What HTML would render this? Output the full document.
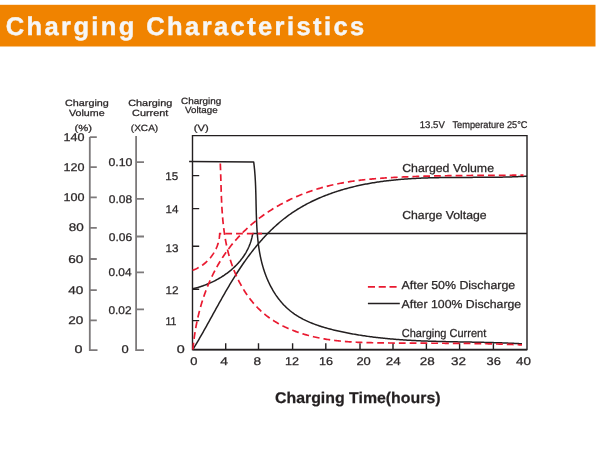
<!DOCTYPE html>
<html><head><meta charset="utf-8">
<style>
html,body{margin:0;padding:0;background:#fff;width:600px;height:451px;overflow:hidden}
svg{display:block;will-change:transform}
text{font-family:"Liberation Sans",sans-serif;fill:#2b2728;stroke:#2b2728;stroke-width:0.25px;text-rendering:geometricPrecision}
</style></head><body>
<svg width="600" height="451" viewBox="0 0 600 451">
<rect x="0" y="0" width="600" height="451" fill="#fff"/>
<rect x="0" y="4.8" width="595.5" height="41.7" fill="#f08300"/>
<text x="5.7" y="35.3" font-size="25.5" font-weight="bold" letter-spacing="2.4" style="fill:#f6f6f6;stroke:#f6f6f6;stroke-width:0.45px">Charging Characteristics</text>
<text x="65" y="106.2" font-size="9" textLength="43.8" lengthAdjust="spacingAndGlyphs">Charging</text>
<text x="69" y="115.9" font-size="9" textLength="35.6" lengthAdjust="spacingAndGlyphs">Volume</text>
<text x="74.5" y="130.8" font-size="9" textLength="17.5" lengthAdjust="spacingAndGlyphs">(%)</text>
<text x="128.2" y="106.2" font-size="9" textLength="44.2" lengthAdjust="spacingAndGlyphs">Charging</text>
<text x="132" y="116" font-size="9" textLength="36.4" lengthAdjust="spacingAndGlyphs">Current</text>
<text x="130.8" y="130.8" font-size="9" textLength="27.4" lengthAdjust="spacingAndGlyphs">(XCA)</text>
<text x="181" y="103.6" font-size="9" textLength="40.2" lengthAdjust="spacingAndGlyphs">Charging</text>
<text x="185" y="113.3" font-size="9" textLength="32.6" lengthAdjust="spacingAndGlyphs">Voltage</text>
<text x="193.8" y="131" font-size="9" textLength="14.9" lengthAdjust="spacingAndGlyphs">(V)</text>
<g stroke="#7d7a7b" stroke-width="1.8" fill="none">
<path d="M89.8 137.1 V350.2 H97.5"/>
<path d="M89.8 137.1 H96.8 M89.8 167.2 H96.8 M89.8 197.4 H96.8 M89.8 227.9 H96.8 M89.8 259 H96.8 M89.8 290.2 H96.8 M89.8 320.4 H96.8"/>
<path d="M136.1 136 V350.2 H144"/>
<path d="M136.1 162.2 H144 M136.1 198.9 H144 M136.1 236.5 H144 M136.1 272.3 H144 M136.1 309.3 H144"/>
</g>
<text x="63.40" y="141.10" font-size="11.2" textLength="21.00" lengthAdjust="spacingAndGlyphs">140</text>
<text x="63.40" y="170.50" font-size="11.2" textLength="21.00" lengthAdjust="spacingAndGlyphs">120</text>
<text x="63.40" y="200.60" font-size="11.2" textLength="21.00" lengthAdjust="spacingAndGlyphs">100</text>
<text x="68.70" y="231.30" font-size="11.2" textLength="15.00" lengthAdjust="spacingAndGlyphs">80</text>
<text x="68.30" y="263.00" font-size="11.2" textLength="15.10" lengthAdjust="spacingAndGlyphs">60</text>
<text x="68.30" y="294.00" font-size="11.2" textLength="15.10" lengthAdjust="spacingAndGlyphs">40</text>
<text x="68.30" y="324.30" font-size="11.2" textLength="15.10" lengthAdjust="spacingAndGlyphs">20</text>
<text x="74.40" y="353.40" font-size="11.2" textLength="8.00" lengthAdjust="spacingAndGlyphs">0</text>
<text x="108.40" y="165.60" font-size="11.2" textLength="24.00" lengthAdjust="spacingAndGlyphs">0.10</text>
<text x="108.80" y="202.60" font-size="11.2" textLength="23.40" lengthAdjust="spacingAndGlyphs">0.08</text>
<text x="108.80" y="241.00" font-size="11.2" textLength="23.40" lengthAdjust="spacingAndGlyphs">0.06</text>
<text x="108.40" y="275.60" font-size="11.2" textLength="23.20" lengthAdjust="spacingAndGlyphs">0.04</text>
<text x="108.40" y="313.70" font-size="11.2" textLength="23.20" lengthAdjust="spacingAndGlyphs">0.02</text>
<text x="121.60" y="353.40" font-size="11.2" textLength="7.20" lengthAdjust="spacingAndGlyphs">0</text>
<text x="165.30" y="179.90" font-size="11.2" textLength="12.90" lengthAdjust="spacingAndGlyphs">15</text>
<text x="165.50" y="213.00" font-size="11.2" textLength="12.90" lengthAdjust="spacingAndGlyphs">14</text>
<text x="165.40" y="252.00" font-size="11.2" textLength="13.00" lengthAdjust="spacingAndGlyphs">13</text>
<text x="165.40" y="293.90" font-size="11.2" textLength="13.10" lengthAdjust="spacingAndGlyphs">12</text>
<text x="165.40" y="324.90" font-size="11.2" textLength="11.00" lengthAdjust="spacingAndGlyphs">11</text>
<text x="176.80" y="352.60" font-size="11.2" textLength="8.00" lengthAdjust="spacingAndGlyphs">0</text>
<text x="190.20" y="364.80" font-size="11.2" textLength="7.20" lengthAdjust="spacingAndGlyphs">0</text>
<text x="220.20" y="364.80" font-size="11.2" textLength="7.70" lengthAdjust="spacingAndGlyphs">4</text>
<text x="253.60" y="364.80" font-size="11.2" textLength="7.60" lengthAdjust="spacingAndGlyphs">8</text>
<text x="284.90" y="364.80" font-size="11.2" textLength="14.00" lengthAdjust="spacingAndGlyphs">12</text>
<text x="318.90" y="364.80" font-size="11.2" textLength="14.00" lengthAdjust="spacingAndGlyphs">16</text>
<text x="356.40" y="364.80" font-size="11.2" textLength="14.40" lengthAdjust="spacingAndGlyphs">20</text>
<text x="385.80" y="364.80" font-size="11.2" textLength="15.00" lengthAdjust="spacingAndGlyphs">24</text>
<text x="419.80" y="364.80" font-size="11.2" textLength="15.00" lengthAdjust="spacingAndGlyphs">28</text>
<text x="451.00" y="364.80" font-size="11.2" textLength="15.00" lengthAdjust="spacingAndGlyphs">32</text>
<text x="486.60" y="364.80" font-size="11.2" textLength="14.30" lengthAdjust="spacingAndGlyphs">36</text>
<text x="516.00" y="364.80" font-size="11.2" textLength="14.90" lengthAdjust="spacingAndGlyphs">40</text>
<text x="275" y="403.4" font-size="15.5" font-weight="bold" textLength="165.5" lengthAdjust="spacingAndGlyphs" style="fill:#231f20">Charging Time(hours)</text>
<g font-size="9.8">
<text x="419.8" y="128" textLength="25" lengthAdjust="spacingAndGlyphs">13.5V</text>
<text x="452.5" y="128" textLength="75" lengthAdjust="spacingAndGlyphs">Temperature 25°C</text>
</g>
<g font-size="11.5">
<text x="402.2" y="172.3" textLength="91.8" lengthAdjust="spacingAndGlyphs">Charged Volume</text>
<text x="402.2" y="219.2" textLength="84.5" lengthAdjust="spacingAndGlyphs">Charge Voltage</text>
<text x="401.6" y="289.2" textLength="113.6" lengthAdjust="spacingAndGlyphs">After 50% Discharge</text>
<text x="401.6" y="307.6" textLength="119.6" lengthAdjust="spacingAndGlyphs">After 100% Discharge</text>
<text x="401.8" y="337.1" textLength="84.4" lengthAdjust="spacingAndGlyphs">Charging Current</text>
</g>
<g stroke="#231f20" stroke-width="1.4" fill="none">
<path d="M192.5 135.6 H527 V349.6 H192.5 Z"/>
<path d="M192.5 175.6 H199.2 M192.5 208.6 H199.2 M192.5 246.2 H199.2 M192.5 289.3 H199.2 M192.5 320.6 H199.2"/>
<path d="M225.7 349 V343.2 M258.5 349 V343.2 M292.6 349 V343.2 M325.8 349 V343.2 M360 349 V343.2 M393 349 V343.2 M426.4 349 V343.2 M459.6 349 V343.2 M493.4 349 V343.2"/>
</g>
<path d="M192.5 349.6 H527" stroke="#231f20" stroke-width="1.8" fill="none"/>
<g stroke="#231f20" stroke-width="1.5" fill="none" stroke-linejoin="round">
<path d="M189.1 161.5 L253.7 162 L253.70 162.00 L253.85 163.16 L253.99 164.32 L254.12 165.49 L254.25 166.65 L254.37 167.82 L254.49 168.99 L254.60 170.17 L254.70 171.34 L254.80 172.52 L254.89 173.70 L254.98 174.89 L255.06 176.07 L255.14 177.26 L255.21 178.45 L255.28 179.64 L255.35 180.83 L255.41 182.02 L255.47 183.22 L255.52 184.41 L255.57 185.61 L255.62 186.81 L255.66 188.01 L255.70 189.21 L255.74 190.42 L255.78 191.62 L255.81 192.83 L255.85 194.03 L255.88 195.24 L255.91 196.45 L255.94 197.66 L255.96 198.87 L255.99 200.08 L256.02 201.29 L256.04 202.50 L256.07 203.71 L256.10 204.92 L256.12 206.14 L256.15 207.35 L256.18 208.56 L256.21 209.78 L256.24 210.99 L256.27 212.20 L256.30 213.42 L256.34 214.63 L256.38 215.85 L256.42 217.06 L256.46 218.27 L256.50 219.48 L256.55 220.70 L256.60 221.91 L256.66 223.12 L256.71 224.33 L256.78 225.54 L256.84 226.75 L256.91 227.95 L256.98 229.16 L257.06 230.37 L257.15 231.57 L257.23 232.77 L257.33 233.98 L257.43 235.18 L257.53 236.38 L257.64 237.58 L257.76 238.78 L257.88 239.97 L258.01 241.17 L258.15 242.36 L258.29 243.55 L258.44 244.74 L258.60 245.93 L258.77 247.11 L258.94 248.29 L259.12 249.48 L259.31 250.66 L259.51 251.83 L259.72 253.01 L259.93 254.18 L260.16 255.35 L260.39 256.52 L260.64 257.68 L260.89 258.85 L261.15 260.01 L261.43 261.17 L261.71 262.32 L262.00 263.47 L262.31 264.62 L262.63 265.77 L262.95 266.91 L263.29 268.05 L263.64 269.19 L264.01 270.32 L264.38 271.46 L264.77 272.58 L265.17 273.71 L265.58 274.83 L266.00 275.94 L266.44 277.06 L266.89 278.17 L267.36 279.27 L267.84 280.37 L268.33 281.47 L268.83 282.56 L269.35 283.64 L269.88 284.72 L270.43 285.79 L270.99 286.86 L271.56 287.92 L272.14 288.97 L272.74 290.01 L273.35 291.04 L273.97 292.06 L274.61 293.08 L275.26 294.08 L275.92 295.08 L276.60 296.06 L277.29 297.03 L277.99 298.00 L278.71 298.95 L279.44 299.88 L280.18 300.81 L280.94 301.72 L281.71 302.62 L282.49 303.50 L283.29 304.38 L284.09 305.23 L284.92 306.07 L285.75 306.90 L286.60 307.71 L287.46 308.50 L288.34 309.28 L289.23 310.04 L290.13 310.79 L291.04 311.51 L291.97 312.23 L292.90 312.92 L293.85 313.60 L294.81 314.27 L295.79 314.92 L296.77 315.55 L297.76 316.17 L298.77 316.78 L299.78 317.37 L300.80 317.95 L301.84 318.51 L302.88 319.07 L303.93 319.60 L304.99 320.13 L306.06 320.64 L307.14 321.15 L308.22 321.64 L309.31 322.11 L310.41 322.58 L311.52 323.03 L312.63 323.48 L313.75 323.91 L314.88 324.34 L316.01 324.75 L317.15 325.15 L318.29 325.55 L319.44 325.93 L320.59 326.31 L321.74 326.67 L322.91 327.03 L324.07 327.38 L325.24 327.72 L326.41 328.05 L327.58 328.38 L328.76 328.70 L329.94 329.01 L331.12 329.32 L332.31 329.61 L333.49 329.91 L334.68 330.19 L335.87 330.47 L337.06 330.75 L338.25 331.02 L339.44 331.28 L340.63 331.54 L341.82 331.80 L343.01 332.05 L344.20 332.30 L345.39 332.54 L346.58 332.78 L347.77 333.01 L348.96 333.24 L350.14 333.47 L351.33 333.69 L352.52 333.90 L353.71 334.12 L354.90 334.33 L356.09 334.53 L357.28 334.73 L358.46 334.93 L359.65 335.12 L360.84 335.31 L362.03 335.50 L363.22 335.68 L364.40 335.85 L365.59 336.03 L366.78 336.20 L367.97 336.37 L369.15 336.53 L370.34 336.69 L371.53 336.85 L372.72 337.00 L373.90 337.15 L375.09 337.29 L376.28 337.44 L377.47 337.58 L378.65 337.71 L379.84 337.85 L381.03 337.98 L382.21 338.11 L383.40 338.23 L384.59 338.35 L385.78 338.47 L386.96 338.59 L388.15 338.70 L389.34 338.81 L390.52 338.91 L391.71 339.02 L392.90 339.12 L394.09 339.22 L395.27 339.32 L396.46 339.41 L397.65 339.50 L398.83 339.59 L400.02 339.68 L401.21 339.76 L402.40 339.84 L403.58 339.92 L404.77 340.00 L405.96 340.08 L407.15 340.15 L408.33 340.22 L409.52 340.29 L410.71 340.36 L411.90 340.42 L413.08 340.48 L414.27 340.55 L415.46 340.61 L416.65 340.66 L417.84 340.72 L419.03 340.77 L420.21 340.83 L421.40 340.88 L422.59 340.93 L423.78 340.97 L424.97 341.02 L426.16 341.06 L427.35 341.11 L428.54 341.15 L429.73 341.19 L430.92 341.23 L432.11 341.27 L433.30 341.30 L434.49 341.34 L435.68 341.37 L436.87 341.41 L438.06 341.44 L439.25 341.47 L440.44 341.50 L441.63 341.53 L442.82 341.56 L444.01 341.59 L445.20 341.62 L446.39 341.64 L447.59 341.67 L448.78 341.70 L449.97 341.72 L451.16 341.75 L452.35 341.77 L453.55 341.79 L454.74 341.82 L455.93 341.84 L457.13 341.86 L458.32 341.88 L459.51 341.90 L460.71 341.93 L461.90 341.95 L463.10 341.97 L464.29 341.99 L465.49 342.01 L466.68 342.03 L467.88 342.05 L469.07 342.08 L470.27 342.10 L471.47 342.12 L472.66 342.14 L473.86 342.16 L475.06 342.19 L476.26 342.21 L477.45 342.23 L478.65 342.26 L479.85 342.28 L481.05 342.31 L482.25 342.33 L483.45 342.36 L484.65 342.39 L485.85 342.41 L487.05 342.44 L488.25 342.47 L489.45 342.50 L490.65 342.53 L491.85 342.57 L493.05 342.60 L494.25 342.63 L495.46 342.67 L496.66 342.70 L497.86 342.74 L499.06 342.78 L500.27 342.82 L501.47 342.86 L502.68 342.90 L503.88 342.95 L505.09 342.99 L506.29 343.04 L507.50 343.09 L508.70 343.14 L509.91 343.19 L511.12 343.24 L512.33 343.30 L513.53 343.35 L514.74 343.41 L515.95 343.47 L517.16 343.53 L518.37 343.60 L519.58 343.66 L520.79 343.73 L522.00 343.80"/>
<path d="M192.50 288.80 L193.63 288.54 L194.75 288.27 L195.88 287.98 L197.01 287.67 L198.13 287.35 L199.26 287.02 L200.38 286.67 L201.51 286.31 L202.63 285.93 L203.74 285.53 L204.86 285.12 L205.97 284.70 L207.08 284.26 L208.18 283.81 L209.28 283.35 L210.38 282.87 L211.47 282.37 L212.55 281.86 L213.63 281.34 L214.70 280.80 L215.77 280.25 L216.82 279.68 L217.88 279.10 L218.92 278.51 L219.95 277.90 L220.98 277.28 L222.00 276.65 L223.01 276.00 L224.01 275.34 L224.99 274.66 L225.97 273.97 L226.94 273.27 L227.90 272.55 L228.84 271.82 L229.78 271.08 L230.70 270.33 L231.60 269.56 L232.50 268.77 L233.38 267.98 L234.25 267.17 L235.10 266.35 L235.94 265.52 L236.77 264.67 L237.58 263.81 L238.37 262.94 L239.15 262.05 L239.91 261.16 L240.65 260.25 L241.38 259.33 L242.09 258.39 L242.78 257.44 L243.45 256.48 L244.11 255.51 L244.74 254.53 L245.36 253.53 L245.96 252.52 L246.53 251.50 L247.09 250.47 L247.62 249.43 L248.14 248.37 L248.63 247.31 L249.10 246.23 L249.54 245.14 L249.97 244.03 L250.37 242.92 L250.75 241.79 L251.10 240.66 L251.43 239.51 L251.74 238.35 L252.02 237.18 L252.27 236.00 L252.50 234.80 L252.70 233.60 L527 233.5"/>
<path d="M192.90 349.50 L193.52 348.49 L194.13 347.47 L194.75 346.45 L195.36 345.43 L195.97 344.41 L196.57 343.39 L197.18 342.36 L197.78 341.33 L198.38 340.30 L198.98 339.27 L199.58 338.24 L200.17 337.21 L200.77 336.17 L201.36 335.14 L201.95 334.10 L202.54 333.06 L203.13 332.02 L203.72 330.98 L204.30 329.94 L204.89 328.90 L205.47 327.86 L206.05 326.81 L206.64 325.77 L207.22 324.72 L207.80 323.67 L208.38 322.63 L208.96 321.58 L209.54 320.53 L210.12 319.48 L210.70 318.43 L211.28 317.38 L211.86 316.33 L212.43 315.28 L213.01 314.23 L213.59 313.18 L214.17 312.13 L214.75 311.08 L215.33 310.03 L215.91 308.98 L216.49 307.93 L217.07 306.88 L217.66 305.83 L218.24 304.78 L218.82 303.73 L219.41 302.69 L219.99 301.64 L220.58 300.59 L221.17 299.54 L221.76 298.50 L222.35 297.45 L222.94 296.41 L223.53 295.37 L224.13 294.32 L224.73 293.28 L225.32 292.24 L225.92 291.20 L226.53 290.16 L227.13 289.13 L227.74 288.09 L228.35 287.06 L228.96 286.02 L229.57 284.99 L230.18 283.96 L230.80 282.93 L231.42 281.91 L232.04 280.88 L232.67 279.86 L233.30 278.84 L233.93 277.82 L234.56 276.80 L235.20 275.78 L235.84 274.77 L236.48 273.76 L237.13 272.75 L237.78 271.74 L238.43 270.74 L239.09 269.73 L239.75 268.73 L240.41 267.73 L241.08 266.74 L241.75 265.74 L242.42 264.75 L243.10 263.77 L243.78 262.78 L244.47 261.80 L245.16 260.82 L245.86 259.84 L246.55 258.87 L247.26 257.90 L247.97 256.93 L248.68 255.96 L249.40 255.00 L250.12 254.04 L250.85 253.09 L251.58 252.14 L252.31 251.19 L253.06 250.25 L253.80 249.30 L254.55 248.37 L255.31 247.44 L256.07 246.51 L256.84 245.58 L257.61 244.66 L258.38 243.75 L259.16 242.83 L259.95 241.93 L260.74 241.02 L261.53 240.13 L262.33 239.23 L263.14 238.34 L263.95 237.46 L264.76 236.58 L265.58 235.71 L266.41 234.84 L267.24 233.98 L268.08 233.13 L268.92 232.28 L269.76 231.43 L270.61 230.59 L271.47 229.76 L272.33 228.93 L273.20 228.11 L274.07 227.30 L274.95 226.49 L275.83 225.69 L276.72 224.89 L277.61 224.10 L278.51 223.32 L279.42 222.55 L280.33 221.78 L281.24 221.02 L282.16 220.27 L283.09 219.52 L284.02 218.78 L284.96 218.05 L285.90 217.33 L286.85 216.61 L287.80 215.90 L288.76 215.20 L289.73 214.51 L290.70 213.82 L291.67 213.15 L292.65 212.48 L293.64 211.82 L294.63 211.17 L295.63 210.52 L296.63 209.89 L297.64 209.26 L298.65 208.64 L299.67 208.02 L300.70 207.42 L301.72 206.82 L302.75 206.23 L303.79 205.65 L304.83 205.07 L305.88 204.51 L306.93 203.95 L307.98 203.40 L309.04 202.85 L310.11 202.31 L311.17 201.78 L312.24 201.26 L313.32 200.75 L314.40 200.24 L315.48 199.74 L316.57 199.24 L317.66 198.75 L318.75 198.27 L319.85 197.80 L320.95 197.33 L322.05 196.88 L323.16 196.42 L324.27 195.98 L325.38 195.54 L326.50 195.11 L327.62 194.68 L328.74 194.26 L329.87 193.85 L331.00 193.44 L332.13 193.05 L333.26 192.65 L334.39 192.27 L335.53 191.89 L336.67 191.51 L337.81 191.15 L338.96 190.78 L340.11 190.43 L341.25 190.08 L342.40 189.74 L343.56 189.40 L344.71 189.07 L345.87 188.75 L347.02 188.43 L348.18 188.12 L349.34 187.81 L350.51 187.51 L351.67 187.22 L352.83 186.93 L354.00 186.64 L355.17 186.37 L356.33 186.09 L357.50 185.83 L358.67 185.57 L359.84 185.31 L361.01 185.06 L362.19 184.82 L363.36 184.58 L364.53 184.34 L365.71 184.11 L366.88 183.89 L368.06 183.67 L369.24 183.46 L370.42 183.25 L371.59 183.05 L372.77 182.85 L373.95 182.65 L375.13 182.46 L376.32 182.28 L377.50 182.10 L378.68 181.92 L379.87 181.75 L381.05 181.58 L382.23 181.42 L383.42 181.26 L384.61 181.11 L385.79 180.96 L386.98 180.81 L388.17 180.67 L389.36 180.54 L390.55 180.40 L391.74 180.27 L392.93 180.15 L394.12 180.02 L395.31 179.91 L396.50 179.79 L397.70 179.68 L398.89 179.57 L400.08 179.47 L401.28 179.37 L402.47 179.27 L403.67 179.18 L404.86 179.09 L406.06 179.00 L407.25 178.91 L408.45 178.83 L409.65 178.75 L410.84 178.68 L412.04 178.61 L413.24 178.54 L414.44 178.47 L415.64 178.41 L416.84 178.34 L418.04 178.29 L419.24 178.23 L420.44 178.18 L421.64 178.12 L422.84 178.07 L424.04 178.03 L425.24 177.98 L426.44 177.94 L427.64 177.90 L428.84 177.86 L430.05 177.83 L431.25 177.79 L432.45 177.76 L433.65 177.73 L434.86 177.70 L436.06 177.67 L437.26 177.65 L438.47 177.63 L439.67 177.60 L440.87 177.58 L442.08 177.56 L443.28 177.55 L444.48 177.53 L445.69 177.51 L446.89 177.50 L448.09 177.49 L449.30 177.48 L450.50 177.47 L451.70 177.46 L452.91 177.45 L454.11 177.44 L455.31 177.43 L456.52 177.42 L457.72 177.42 L458.92 177.41 L460.13 177.41 L461.33 177.40 L462.53 177.40 L463.74 177.40 L464.94 177.39 L466.14 177.39 L467.34 177.39 L468.55 177.39 L469.75 177.38 L470.95 177.38 L472.15 177.38 L473.35 177.37 L474.55 177.37 L475.76 177.37 L476.96 177.37 L478.16 177.36 L479.36 177.36 L480.56 177.35 L481.76 177.35 L482.96 177.34 L484.15 177.34 L485.35 177.33 L486.55 177.32 L487.75 177.31 L488.95 177.30 L490.14 177.29 L491.34 177.28 L492.54 177.27 L493.73 177.26 L494.93 177.24 L496.12 177.23 L497.32 177.21 L498.51 177.19 L499.70 177.17 L500.90 177.15 L502.09 177.13 L503.28 177.10 L504.47 177.08 L505.67 177.05 L506.86 177.02 L508.05 176.99 L509.24 176.96 L510.42 176.92 L511.61 176.89 L512.80 176.85 L513.99 176.81 L515.17 176.76 L516.36 176.72 L517.54 176.67 L518.73 176.62 L519.91 176.57 L521.10 176.51 L522.28 176.45 L523.46 176.39 L524.64 176.33 L525.82 176.27 L527.00 176.20"/>
<path d="M367.9 303.4 H399.8"/>
</g>
<g stroke="#e91a30" stroke-width="1.7" fill="none" stroke-dasharray="6.8 4">
<path d="M220.30 163.50 L220.35 164.66 L220.40 165.83 L220.44 166.99 L220.49 168.16 L220.53 169.33 L220.57 170.51 L220.61 171.68 L220.65 172.86 L220.68 174.04 L220.72 175.22 L220.76 176.40 L220.79 177.58 L220.83 178.77 L220.86 179.96 L220.89 181.15 L220.93 182.34 L220.96 183.53 L221.00 184.72 L221.03 185.91 L221.07 187.11 L221.10 188.30 L221.14 189.50 L221.18 190.70 L221.22 191.90 L221.26 193.10 L221.30 194.30 L221.34 195.50 L221.39 196.70 L221.44 197.91 L221.49 199.11 L221.54 200.31 L221.59 201.52 L221.65 202.72 L221.71 203.93 L221.77 205.14 L221.84 206.34 L221.90 207.55 L221.98 208.76 L222.05 209.96 L222.13 211.17 L222.21 212.38 L222.30 213.58 L222.39 214.79 L222.49 215.99 L222.59 217.20 L222.69 218.41 L222.80 219.61 L222.91 220.82 L223.03 222.02 L223.15 223.22 L223.28 224.43 L223.42 225.63 L223.56 226.83 L223.70 228.03 L223.85 229.23 L224.01 230.43 L224.17 231.63 L224.34 232.83 L224.52 234.03 L224.70 235.22 L224.89 236.41 L225.09 237.61 L225.29 238.80 L225.50 239.99 L225.72 241.18 L225.95 242.37 L226.18 243.55 L226.42 244.74 L226.67 245.92 L226.93 247.10 L227.19 248.28 L227.47 249.46 L227.75 250.63 L228.04 251.81 L228.34 252.98 L228.65 254.15 L228.97 255.31 L229.30 256.48 L229.63 257.64 L229.98 258.80 L230.34 259.96 L230.70 261.12 L231.08 262.27 L231.47 263.42 L231.86 264.57 L232.27 265.71 L232.68 266.85 L233.11 267.99 L233.54 269.12 L233.99 270.25 L234.44 271.37 L234.91 272.49 L235.38 273.61 L235.86 274.72 L236.36 275.83 L236.86 276.93 L237.37 278.02 L237.90 279.11 L238.43 280.19 L238.97 281.27 L239.52 282.34 L240.09 283.41 L240.66 284.47 L241.24 285.52 L241.83 286.57 L242.44 287.61 L243.05 288.64 L243.67 289.66 L244.30 290.68 L244.94 291.69 L245.60 292.69 L246.26 293.68 L246.93 294.67 L247.61 295.64 L248.30 296.61 L249.00 297.57 L249.72 298.52 L250.44 299.46 L251.17 300.39 L251.91 301.31 L252.66 302.22 L253.42 303.12 L254.20 304.01 L254.98 304.90 L255.77 305.77 L256.57 306.63 L257.38 307.48 L258.21 308.31 L259.04 309.14 L259.88 309.96 L260.73 310.76 L261.59 311.55 L262.47 312.33 L263.35 313.10 L264.24 313.85 L265.15 314.60 L266.06 315.33 L266.98 316.05 L267.91 316.75 L268.85 317.45 L269.80 318.13 L270.76 318.80 L271.73 319.46 L272.71 320.11 L273.70 320.74 L274.69 321.37 L275.69 321.98 L276.70 322.58 L277.72 323.17 L278.75 323.75 L279.78 324.32 L280.82 324.88 L281.87 325.42 L282.92 325.96 L283.99 326.48 L285.05 327.00 L286.13 327.50 L287.21 328.00 L288.30 328.48 L289.39 328.95 L290.49 329.42 L291.60 329.87 L292.71 330.31 L293.83 330.75 L294.95 331.17 L296.08 331.59 L297.21 331.99 L298.35 332.39 L299.49 332.77 L300.63 333.15 L301.78 333.52 L302.94 333.88 L304.09 334.23 L305.26 334.57 L306.42 334.90 L307.59 335.22 L308.76 335.54 L309.94 335.84 L311.11 336.14 L312.30 336.43 L313.48 336.71 L314.66 336.98 L315.85 337.25 L317.04 337.51 L318.23 337.76 L319.43 338.00 L320.62 338.23 L321.82 338.46 L323.02 338.68 L324.22 338.89 L325.42 339.09 L326.62 339.29 L327.82 339.48 L329.02 339.66 L330.22 339.84 L331.43 340.00 L332.63 340.17 L333.83 340.32 L335.04 340.47 L336.24 340.62 L337.44 340.75 L338.64 340.88 L339.85 341.01 L341.05 341.13 L342.25 341.24 L343.46 341.35 L344.66 341.45 L345.86 341.55 L347.07 341.65 L348.27 341.74 L349.47 341.82 L350.68 341.90 L351.88 341.98 L353.08 342.05 L354.29 342.11 L355.49 342.18 L356.69 342.24 L357.90 342.29 L359.10 342.35 L360.30 342.40 L361.51 342.44 L362.71 342.49 L363.91 342.53 L365.11 342.57 L366.32 342.60 L367.52 342.63 L368.72 342.67 L369.92 342.69 L371.12 342.72 L372.32 342.75 L373.52 342.77 L374.72 342.79 L375.93 342.81 L377.13 342.83 L378.33 342.85 L379.53 342.87 L380.72 342.89 L381.92 342.90 L383.12 342.92 L384.32 342.93 L385.52 342.95 L386.72 342.96 L387.91 342.97 L389.11 342.99 L390.31 343.00 L391.51 343.01 L392.70 343.02 L393.90 343.03 L395.10 343.04 L396.29 343.05 L397.49 343.06 L398.68 343.07 L399.88 343.08 L401.07 343.09 L402.27 343.10 L403.46 343.10 L404.66 343.11 L405.85 343.12 L407.05 343.13 L408.24 343.13 L409.44 343.14 L410.63 343.14 L411.82 343.15 L413.02 343.15 L414.21 343.16 L415.40 343.16 L416.60 343.17 L417.79 343.17 L418.98 343.18 L420.18 343.18 L421.37 343.19 L422.56 343.19 L423.76 343.20 L424.95 343.20 L426.14 343.20 L427.33 343.21 L428.53 343.21 L429.72 343.22 L430.91 343.22 L432.11 343.23 L433.30 343.23 L434.49 343.23 L435.68 343.24 L436.88 343.24 L438.07 343.25 L439.26 343.25 L440.45 343.26 L441.65 343.26 L442.84 343.27 L444.03 343.27 L445.23 343.28 L446.42 343.29 L447.61 343.29 L448.81 343.30 L450.00 343.31 L451.19 343.31 L452.39 343.32 L453.58 343.33 L454.77 343.34 L455.97 343.35 L457.16 343.35 L458.35 343.36 L459.55 343.37 L460.74 343.38 L461.94 343.40 L463.13 343.41 L464.33 343.42 L465.52 343.43 L466.72 343.44 L467.91 343.46 L469.11 343.47 L470.30 343.49 L471.50 343.50 L472.70 343.52 L473.89 343.53 L475.09 343.55 L476.29 343.57 L477.48 343.59 L478.68 343.61 L479.88 343.63 L481.07 343.65 L482.27 343.67 L483.47 343.69 L484.67 343.71 L485.87 343.74 L487.07 343.76 L488.27 343.79 L489.47 343.81 L490.67 343.84 L491.87 343.87 L493.07 343.90 L494.27 343.93 L495.47 343.96 L496.67 343.99 L497.87 344.02 L499.08 344.05 L500.28 344.09 L501.48 344.12 L502.69 344.16 L503.89 344.20 L505.09 344.24 L506.30 344.28 L507.50 344.32 L508.71 344.36 L509.92 344.40 L511.12 344.45 L512.33 344.49 L513.54 344.54 L514.74 344.59 L515.95 344.64 L517.16 344.69 L518.37 344.74 L519.58 344.79 L520.79 344.84 L522.00 344.90"/>
<path d="M192.50 270.30 L193.62 269.88 L194.73 269.42 L195.83 268.94 L196.90 268.42 L197.96 267.87 L199.00 267.30 L200.02 266.70 L201.02 266.06 L202.00 265.41 L202.96 264.72 L203.90 264.01 L204.82 263.27 L205.72 262.51 L206.59 261.72 L207.44 260.91 L208.27 260.08 L209.08 259.22 L209.85 258.35 L210.61 257.45 L211.34 256.53 L212.04 255.59 L212.71 254.63 L213.36 253.66 L213.98 252.66 L214.57 251.65 L215.13 250.62 L215.66 249.58 L216.16 248.52 L216.63 247.44 L217.07 246.35 L217.48 245.25 L217.86 244.13 L218.20 243.00 L218.51 241.86 L218.79 240.71 L219.03 239.55 L219.23 238.38 L219.41 237.19 L219.54 236.00 L219.64 234.81 L219.70 233.60 L262 233.6"/>
<path d="M192.90 349.50 L193.01 348.31 L193.12 347.12 L193.24 345.92 L193.36 344.73 L193.49 343.54 L193.63 342.34 L193.77 341.15 L193.92 339.96 L194.07 338.77 L194.23 337.58 L194.40 336.39 L194.57 335.20 L194.74 334.01 L194.93 332.82 L195.12 331.63 L195.31 330.44 L195.52 329.26 L195.72 328.07 L195.94 326.88 L196.16 325.70 L196.39 324.52 L196.62 323.34 L196.86 322.16 L197.11 320.98 L197.36 319.80 L197.62 318.62 L197.88 317.45 L198.15 316.27 L198.43 315.10 L198.71 313.93 L199.01 312.76 L199.30 311.60 L199.61 310.43 L199.92 309.27 L200.23 308.11 L200.56 306.95 L200.89 305.79 L201.22 304.64 L201.57 303.49 L201.92 302.34 L202.27 301.19 L202.64 300.04 L203.01 298.90 L203.38 297.76 L203.77 296.62 L204.16 295.48 L204.55 294.35 L204.96 293.22 L205.37 292.10 L205.79 290.97 L206.21 289.85 L206.64 288.73 L207.08 287.62 L207.52 286.51 L207.98 285.40 L208.44 284.29 L208.90 283.19 L209.38 282.09 L209.86 281.00 L210.34 279.90 L210.84 278.82 L211.34 277.73 L211.85 276.65 L212.37 275.57 L212.89 274.50 L213.42 273.43 L213.96 272.37 L214.50 271.31 L215.06 270.25 L215.62 269.20 L216.18 268.15 L216.76 267.10 L217.34 266.06 L217.93 265.03 L218.53 263.99 L219.13 262.97 L219.74 261.95 L220.36 260.93 L220.99 259.92 L221.62 258.91 L222.26 257.90 L222.91 256.91 L223.57 255.91 L224.23 254.92 L224.91 253.94 L225.59 252.96 L226.27 251.99 L226.97 251.02 L227.67 250.06 L228.38 249.10 L229.10 248.15 L229.83 247.21 L230.56 246.27 L231.30 245.33 L232.05 244.40 L232.81 243.48 L233.58 242.56 L234.35 241.65 L235.13 240.74 L235.92 239.84 L236.72 238.95 L237.52 238.06 L238.33 237.18 L239.15 236.30 L239.97 235.43 L240.80 234.57 L241.64 233.71 L242.49 232.86 L243.34 232.02 L244.20 231.18 L245.06 230.35 L245.94 229.52 L246.81 228.70 L247.70 227.88 L248.59 227.08 L249.49 226.28 L250.39 225.48 L251.30 224.69 L252.21 223.91 L253.13 223.14 L254.06 222.37 L254.99 221.61 L255.93 220.85 L256.87 220.10 L257.82 219.36 L258.77 218.63 L259.73 217.90 L260.69 217.18 L261.66 216.46 L262.63 215.75 L263.61 215.05 L264.59 214.36 L265.58 213.67 L266.57 212.99 L267.57 212.32 L268.57 211.65 L269.57 211.00 L270.58 210.34 L271.60 209.70 L272.61 209.06 L273.64 208.43 L274.66 207.81 L275.69 207.20 L276.72 206.59 L277.76 205.99 L278.80 205.39 L279.85 204.81 L280.90 204.23 L281.95 203.66 L283.00 203.09 L284.06 202.54 L285.12 201.99 L286.19 201.44 L287.26 200.91 L288.33 200.38 L289.41 199.86 L290.48 199.34 L291.57 198.83 L292.65 198.33 L293.74 197.84 L294.83 197.35 L295.92 196.87 L297.02 196.40 L298.12 195.93 L299.22 195.47 L300.33 195.02 L301.44 194.57 L302.55 194.13 L303.66 193.70 L304.78 193.28 L305.90 192.86 L307.02 192.44 L308.14 192.04 L309.27 191.64 L310.40 191.25 L311.53 190.86 L312.66 190.48 L313.80 190.11 L314.94 189.74 L316.08 189.38 L317.22 189.03 L318.36 188.68 L319.51 188.34 L320.66 188.00 L321.81 187.67 L322.96 187.35 L324.11 187.04 L325.27 186.73 L326.43 186.42 L327.59 186.13 L328.75 185.84 L329.91 185.55 L331.07 185.27 L332.24 185.00 L333.41 184.73 L334.57 184.47 L335.74 184.22 L336.91 183.97 L338.09 183.73 L339.26 183.49 L340.44 183.26 L341.61 183.04 L342.79 182.82 L343.97 182.61 L345.15 182.40 L346.33 182.20 L347.51 182.00 L348.69 181.81 L349.87 181.63 L351.06 181.44 L352.24 181.27 L353.43 181.10 L354.62 180.93 L355.80 180.77 L356.99 180.61 L358.18 180.46 L359.37 180.31 L360.56 180.17 L361.75 180.03 L362.95 179.89 L364.14 179.76 L365.33 179.63 L366.53 179.51 L367.72 179.39 L368.91 179.27 L370.11 179.16 L371.31 179.04 L372.50 178.94 L373.70 178.83 L374.90 178.73 L376.09 178.63 L377.29 178.54 L378.49 178.45 L379.69 178.36 L380.88 178.27 L382.08 178.18 L383.28 178.10 L384.48 178.02 L385.68 177.94 L386.88 177.86 L388.08 177.79 L389.28 177.71 L390.48 177.64 L391.68 177.57 L392.87 177.50 L394.07 177.44 L395.27 177.37 L396.47 177.31 L397.67 177.25 L398.87 177.18 L400.07 177.13 L401.27 177.07 L402.47 177.01 L403.66 176.96 L404.86 176.90 L406.06 176.85 L407.26 176.80 L408.46 176.75 L409.66 176.70 L410.86 176.65 L412.06 176.61 L413.25 176.56 L414.45 176.52 L415.65 176.48 L416.85 176.43 L418.05 176.39 L419.25 176.36 L420.45 176.32 L421.65 176.28 L422.84 176.25 L424.04 176.21 L425.24 176.18 L426.44 176.14 L427.64 176.11 L428.84 176.08 L430.04 176.05 L431.23 176.02 L432.43 176.00 L433.63 175.97 L434.83 175.94 L436.03 175.92 L437.23 175.90 L438.42 175.87 L439.62 175.85 L440.82 175.83 L442.02 175.81 L443.22 175.79 L444.42 175.77 L445.61 175.75 L446.81 175.73 L448.01 175.71 L449.21 175.70 L450.41 175.68 L451.61 175.66 L452.80 175.65 L454.00 175.63 L455.20 175.62 L456.40 175.61 L457.60 175.59 L458.80 175.58 L459.99 175.57 L461.19 175.56 L462.39 175.55 L463.59 175.54 L464.79 175.53 L465.99 175.52 L467.18 175.51 L468.38 175.50 L469.58 175.49 L470.78 175.48 L471.98 175.47 L473.17 175.46 L474.37 175.46 L475.57 175.45 L476.77 175.44 L477.97 175.43 L479.17 175.43 L480.36 175.42 L481.56 175.41 L482.76 175.41 L483.96 175.40 L485.16 175.39 L486.35 175.39 L487.55 175.38 L488.75 175.37 L489.95 175.37 L491.15 175.36 L492.35 175.36 L493.54 175.35 L494.74 175.34 L495.94 175.33 L497.14 175.33 L498.34 175.32 L499.53 175.31 L500.73 175.31 L501.93 175.30 L503.13 175.29 L504.33 175.28 L505.53 175.27 L506.72 175.26 L507.92 175.26 L509.12 175.25 L510.32 175.24 L511.52 175.23 L512.72 175.22 L513.91 175.20 L515.11 175.19 L516.31 175.18 L517.51 175.17 L518.71 175.16 L519.90 175.14 L521.10 175.13 L522.30 175.11 L523.50 175.10"/>
<path d="M367.9 286.8 H397.5" stroke-dasharray="7.1 3.7"/>
</g>
</svg>
</body></html>
